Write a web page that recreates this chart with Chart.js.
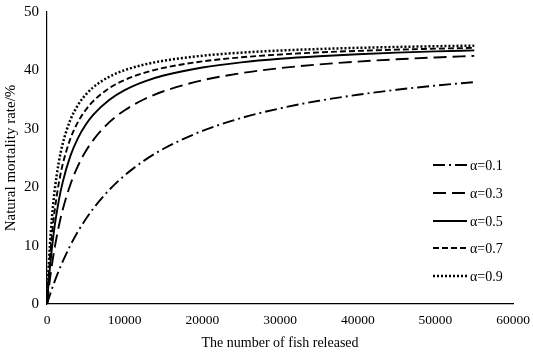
<!DOCTYPE html>
<html><head><meta charset="utf-8">
<script src="https://cdn.jsdelivr.net/npm/chart.js@4/dist/chart.umd.min.js"></script>
<style>html,body{margin:0;padding:0;background:#fff}#w{width:533px;height:356px}</style>
</head><body><div id="w"><canvas id="c"></canvas></div>
<script>
const fishReleased = [0,100,250,500,750,1000,1500,2000,3000,4000,5000,6000,8000,10000,12500,15000,20000,25000,30000,35000,40000,45000,50000,55000];
const alpha01 = [0,0.42,1.05,2.05,3.00,3.92,5.63,7.21,10.02,12.44,14.55,16.41,19.52,22.03,24.55,26.58,29.64,31.84,33.50,34.80,35.83,36.69,37.40,38.00];
const alpha03 = [0,1.21,2.90,5.46,7.72,9.74,13.19,16.03,20.43,23.68,26.18,28.16,31.10,33.18,35.06,36.43,38.31,39.53,40.39,41.02,41.51,41.90,42.22,42.48];
const alpha05 = [0,1.84,4.33,7.90,10.90,13.45,17.57,20.74,25.32,28.45,30.74,32.48,34.95,36.63,38.09,39.12,40.50,41.38,41.99,42.43,42.77,43.04,43.25,43.43];
const alpha07 = [0,2.37,5.50,9.81,13.28,16.13,20.54,23.79,28.27,31.20,33.27,34.81,36.95,38.36,39.58,40.43,41.54,42.24,42.72,43.08,43.34,43.55,43.72,43.86];
const alpha09 = [0,3.20,7.24,12.49,16.46,19.58,24.15,27.34,31.50,34.10,35.87,37.16,38.91,40.04,40.99,41.65,42.51,43.04,43.40,43.66,43.86,44.01,44.14,44.24];
const seriesLabels = ['α=0.1','α=0.3','α=0.5','α=0.7','α=0.9'];
const xTicks = [0,10000,20000,30000,40000,50000,60000];
const yTicks = [0,10,20,30,40,50];

const seriesData = [alpha01, alpha03, alpha05, alpha07, alpha09];
const dashes = [[12,4,2,4],[13,6],[],[6,3],[2,2]];
const widths = [1.9,1.9,1.9,1.9,2.5];
const FONT = '"Liberation Serif", "Times New Roman", serif';

const datasets = seriesData.map((arr, i) => ({
  label: seriesLabels[i],
  data: fishReleased.map((x, j) => ({x, y: arr[j]})),
  borderColor: '#000',
  borderWidth: widths[i],
  borderDash: dashes[i],
  pointRadius: 0,
  fill: false,
  cubicInterpolationMode: 'monotone'
}));

const legendPlugin = {
  id: 'inlegend',
  afterDraw(chart) {
    const ctx = chart.ctx;
    const x0 = 433, x1 = 467, ys = [165, 193, 221, 248, 276];
    chart.data.datasets.forEach((ds, i) => {
      ctx.save();
      ctx.strokeStyle = '#000';
      ctx.lineWidth = ds.borderWidth;
      ctx.setLineDash(ds.borderDash);
      ctx.beginPath(); ctx.moveTo(x0, ys[i]); ctx.lineTo(x1, ys[i]); ctx.stroke();
      ctx.setLineDash([]);
      ctx.fillStyle = '#000';
      ctx.font = '14px ' + FONT;
      ctx.textBaseline = 'middle';
      ctx.fillText(ds.label, x1 + 3, ys[i] + 1);
      ctx.restore();
    });
  }
};

new Chart(document.getElementById('c'), {
  type: 'line',
  data: { datasets },
  plugins: [legendPlugin],
  options: {
    responsive: true, maintainAspectRatio: false, animation: false,
    layout: { padding: { left: 2, right: 17, top: 6, bottom: 0 } },
    plugins: { legend: { display: false }, tooltip: { enabled: false } },
    scales: {
      x: {
        type: 'linear', min: 0, max: 60000,
        afterBuildTicks(s) { s.ticks = xTicks.map(v => ({value: v})); },
        afterFit(s) { s.height = 52; },
        grid: { display: false, drawTicks: true, tickLength: 5, color: '#000' },
        border: { display: true, color: '#000', width: 1.2 },
        ticks: { color: '#000', font: { family: FONT, size: 13.5 }, maxRotation: 0, padding: 3, callback: v => String(v) },
        title: { display: true, text: 'The number of fish released', color: '#000', font: { family: FONT, size: 14 }, padding: { top: 12 } }
      },
      y: {
        min: 0, max: 50,
        afterBuildTicks(s) { s.ticks = yTicks.map(v => ({value: v})); },
        afterFit(s) { s.width = 45; },
        grid: { display: false, drawTicks: true, tickLength: 5, color: '#000' },
        border: { display: true, color: '#000', width: 1.2 },
        ticks: { color: '#000', font: { family: FONT, size: 15 }, padding: 3, callback: v => String(v) },
        title: { display: true, text: 'Natural mortality rate/%', color: '#000', font: { family: FONT, size: 15 }, padding: 0 }
      }
    }
  }
});
</script></body></html>
